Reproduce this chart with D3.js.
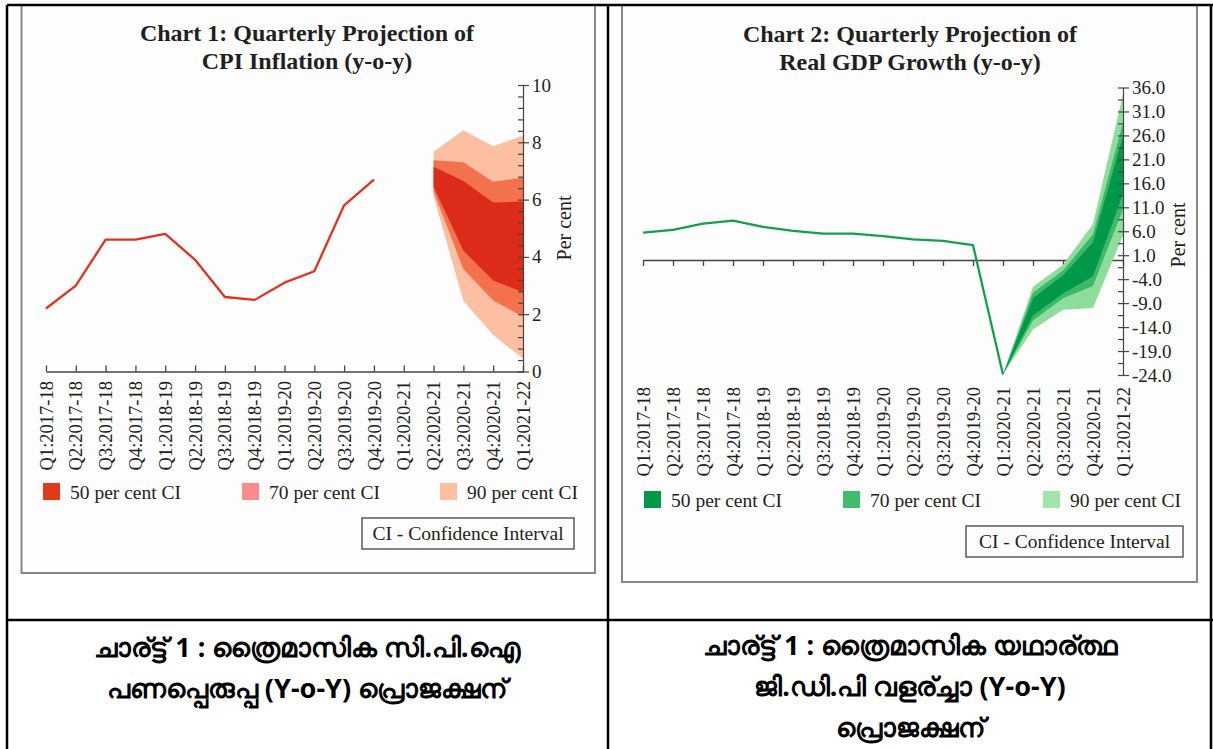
<!DOCTYPE html>
<html>
<head>
<meta charset="utf-8">
<script src="https://cdn.jsdelivr.net/npm/d3@7/dist/d3.min.js"></script>
<style>
    body { margin: 0; background: #fff; }
    svg text { fill: #231f20; }
</style>
</head>
<body>
<script>
// ==================== data ====================
const quarters = [
    "Q1:2017-18", "Q2:2017-18", "Q3:2017-18", "Q4:2017-18",
    "Q1:2018-19", "Q2:2018-19", "Q3:2018-19", "Q4:2018-19",
    "Q1:2019-20", "Q2:2019-20", "Q3:2019-20", "Q4:2019-20",
    "Q1:2020-21", "Q2:2020-21", "Q3:2020-21", "Q4:2020-21", "Q1:2021-22"
];

// CPI inflation, actual (Q1:2017-18 .. Q4:2019-20)
const cpiActual = [2.2, 3.0, 4.6, 4.6, 4.8, 3.9, 2.6, 2.5, 3.1, 3.5, 5.8, 6.7];
// CPI projection fan (Q2:2020-21 .. Q1:2021-22)
const cpiFanQuarters = ["Q2:2020-21", "Q3:2020-21", "Q4:2020-21", "Q1:2021-22"];
const cpi50Hi = [7.15, 6.65, 5.9, 5.93];
const cpi50Lo = [6.45, 4.22, 3.18, 2.77];
const cpi70Hi = [7.37, 7.3, 6.62, 6.77];
const cpi70Lo = [6.28, 3.58, 2.48, 1.92];
const cpi90Hi = [7.67, 8.42, 7.86, 8.23];
const cpi90Lo = [6.12, 2.47, 1.27, 0.45];

// Real GDP growth, actual (Q1:2017-18 .. Q1:2020-21)
const gdpActual = [5.7, 6.3, 7.6, 8.2, 6.9, 6.1, 5.5, 5.5, 5.0, 4.3, 4.0, 3.1, -23.9];
// GDP projection fan (Q1:2020-21 .. Q1:2021-22)
const gdpFanQuarters = ["Q1:2020-21", "Q2:2020-21", "Q3:2020-21", "Q4:2020-21", "Q1:2021-22"];
const gdp50Hi = [-23.9, -8.0, -3.2, 3.7, 26.0];
const gdp50Lo = [-23.9, -11.6, -7.0, -3.4, 13.8];
const gdp70Hi = [-23.9, -6.8, -2.2, 5.4, 28.7];
const gdp70Lo = [-23.9, -12.6, -8.0, -5.4, 10.6];
const gdp90Hi = [-23.9, -5.6, -1.0, 7.5, 34.6];
const gdp90Lo = [-23.9, -14.5, -10.4, -10.0, 5.1];

const cpiTicks = [0, 2, 4, 6, 8, 10];
const gdpTicks = [36, 31, 26, 21, 16, 11, 6, 1, -4, -9, -14, -19, -24];
const legendLabels = ["50 per cent CI", "70 per cent CI", "90 per cent CI"];

const captionLeft = ["ചാര്ട്ട് 1 : ത്രൈമാസിക സി.പി.ഐ", "പണപ്പെരുപ്പ (Y-o-Y) പ്രൊജക്ഷന്"];
const captionRight = ["ചാര്ട്ട് 1 : ത്രൈമാസിക യഥാര്ത്ഥ", "ജി.ഡി.പി വളര്ച്ചാ (Y-o-Y)", "പ്രൊജക്ഷന്"];

// ==================== drawing ====================
const W = 1213, H = 749;
const serif = "'Liberation Serif', 'DejaVu Serif', serif";

const svg = d3.select("body").append("svg")
    .attr("width", W)
    .attr("height", H);

svg.append("rect").attr("width", W).attr("height", H).attr("fill", "#fff");

function drawPanel(c) {
    const g = svg.append("g");

    // panel frame (picture border)
    g.append("rect")
        .attr("x", c.box[0]).attr("y", c.box[1])
        .attr("width", c.box[2] - c.box[0]).attr("height", c.box[3] - c.box[1])
        .attr("fill", "#fdfdfd")
        .attr("stroke", "#888")
        .attr("stroke-width", 2);

    // title
    c.title.forEach((t, i) => {
        g.append("text")
            .attr("x", c.titleX)
            .attr("y", c.titleY + i * 28)
            .attr("text-anchor", "middle")
            .style("font-family", serif)
            .style("font-weight", "bold")
            .style("font-size", "24px")
            .text(t);
    });

    const x = d3.scalePoint().domain(quarters).range(c.xRange);
    const y = d3.scaleLinear().domain(c.yDomain).range(c.yRange);

    // x axis line + ticks
    g.append("g")
        .attr("transform", `translate(0,${y(0)})`)
        .call(d3.axisBottom(x).tickSizeInner(c.xTickDir * 6).tickSizeOuter(0).tickFormat(""))
        .call(a => a.selectAll("path, line").attr("stroke", "#444").attr("stroke-width", 1.3));

    // x labels (rotated)
    g.append("g")
        .attr("transform", `translate(0,${c.labelY})`)
        .call(d3.axisBottom(x).tickSize(0).tickPadding(0))
        .call(a => a.select(".domain").remove())
        .selectAll("text")
        .attr("transform", "rotate(-90)")
        .attr("text-anchor", "end")
        .attr("x", 0)
        .attr("y", 0)
        .attr("dy", "0.33em")
        .style("font-family", serif)
        .style("font-size", "18.5px")
        .style("fill", "#231f20");

    // fan bands
    const area = d3.area()
        .x(d => x(d.q))
        .y0(d => y(d.lo))
        .y1(d => y(d.hi));
    c.bands.forEach(b => {
        g.append("path")
            .datum(c.fanQuarters.map((q, i) => ({q: q, lo: b.lo[i], hi: b.hi[i]})))
            .attr("d", area)
            .attr("fill", b.color);
    });

    // actual line
    const line = d3.line().x(d => x(d.q)).y(d => y(d.v));
    g.append("path")
        .datum(c.actual.map((v, i) => ({q: quarters[i], v: v})))
        .attr("d", line)
        .attr("fill", "none")
        .attr("stroke", c.lineColor)
        .attr("stroke-width", 2.3)
        .attr("stroke-linejoin", "round");

    // y axis: minor ticks (left) + major ticks (right) with labels
    const axX = c.xRange[1];
    g.append("g")
        .attr("transform", `translate(${axX},0)`)
        .call(d3.axisRight(y).tickValues(c.minorTicks).tickSizeInner(-5).tickSizeOuter(0).tickFormat(""))
        .call(a => a.selectAll("path, line").attr("stroke", "#444").attr("stroke-width", 1.2));
    g.append("g")
        .attr("transform", `translate(${axX},0)`)
        .call(d3.axisRight(y).tickValues(c.majorTicks).tickSizeInner(6).tickSizeOuter(0)
            .tickPadding(3).tickFormat(c.tickFormat))
        .call(a => a.select(".domain").remove())
        .call(a => a.selectAll("line").attr("stroke", "#444").attr("stroke-width", 1.2))
        .selectAll("text")
        .style("font-family", serif)
        .style("font-size", "19px")
        .style("fill", "#231f20");

    g.append("text")
        .attr("transform", `translate(${c.perCent[0]},${c.perCent[1]}) rotate(-90)`)
        .attr("text-anchor", "middle")
        .style("font-family", serif)
        .style("font-size", "20px")
        .text("Per cent");

    // legend
    legendLabels.forEach((t, i) => {
        g.append("rect")
            .attr("x", c.legendX[i]).attr("y", c.legendY - 16)
            .attr("width", 17).attr("height", 17)
            .attr("fill", c.legendColors[i]);
        g.append("text")
            .attr("x", c.legendX[i] + 27).attr("y", c.legendY)
            .style("font-family", serif)
            .style("font-size", "19.5px")
            .text(t);
    });

    // CI note box
    g.append("rect")
        .attr("x", c.ciBox[0]).attr("y", c.ciBox[1])
        .attr("width", c.ciBox[2] - c.ciBox[0]).attr("height", c.ciBox[3] - c.ciBox[1])
        .attr("fill", "none")
        .attr("stroke", "#444")
        .attr("stroke-width", 1.3);
    g.append("text")
        .attr("x", (c.ciBox[0] + c.ciBox[2]) / 2)
        .attr("y", (c.ciBox[1] + c.ciBox[3]) / 2 + 6)
        .attr("text-anchor", "middle")
        .style("font-family", serif)
        .style("font-size", "19.5px")
        .text("CI - Confidence Interval");
}

const cpiMinor = d3.range(0, 10.01, 0.4).map(v => +v.toFixed(1));
const gdpMinor = d3.range(-24, 36.01, 2.5);

// Chart 1: CPI inflation
drawPanel({
    box: [21.5, 5, 595, 573],
    title: ["Chart 1: Quarterly Projection of", "CPI Inflation (y-o-y)"],
    titleX: 307, titleY: 41,
    xRange: [46, 523], yDomain: [0, 10], yRange: [371.5, 85],
    xTickDir: -1, labelY: 381,
    actual: cpiActual, lineColor: "#e2311d",
    fanQuarters: cpiFanQuarters,
    bands: [
        {lo: cpi90Lo, hi: cpi90Hi, color: "#fcbfa2"},
        {lo: cpi70Lo, hi: cpi70Hi, color: "#f3714d"},
        {lo: cpi50Lo, hi: cpi50Hi, color: "#dc2b19"}
    ],
    majorTicks: cpiTicks, minorTicks: cpiMinor, tickFormat: d3.format("d"),
    perCent: [571, 228],
    legendX: [43, 242, 440], legendY: 499,
    legendColors: ["#e03a17", "#fc8a88", "#fec0a1"],
    ciBox: [362, 518, 574, 549]
});

// Chart 2: Real GDP growth
drawPanel({
    box: [622, 5, 1197, 582],
    title: ["Chart 2: Quarterly Projection of", "Real GDP Growth (y-o-y)"],
    titleX: 910, titleY: 42,
    xRange: [643, 1123], yDomain: [-24, 36], yRange: [375, 87.5],
    xTickDir: 1, labelY: 387,
    actual: gdpActual, lineColor: "#12a04c",
    fanQuarters: gdpFanQuarters,
    bands: [
        {lo: gdp90Lo, hi: gdp90Hi, color: "#8fdd9c"},
        {lo: gdp70Lo, hi: gdp70Hi, color: "#3eb96a"},
        {lo: gdp50Lo, hi: gdp50Hi, color: "#01984a"}
    ],
    majorTicks: gdpTicks, minorTicks: gdpMinor, tickFormat: d => d.toFixed(1),
    perCent: [1185, 235],
    legendX: [644, 843, 1043], legendY: 507,
    legendColors: ["#00994a", "#40bd6c", "#a0e6aa"],
    ciBox: [966, 526, 1183, 557]
});

// ==================== table grid ====================
const grid = [
    [7, 5, 1213, 5],
    [7, 5, 7, H],
    [608, 5, 608, H],
    [1211, 5, 1211, H],
    [7, 620, 1213, 620]
];
svg.selectAll(".grid")
    .data(grid)
    .join("line")
    .attr("class", "grid")
    .attr("x1", d => d[0]).attr("y1", d => d[1])
    .attr("x2", d => d[2]).attr("y2", d => d[3])
    .attr("stroke", "#000")
    .attr("stroke-width", 2.5);

// captions (Malayalam)
const capFont = "'Noto Sans', 'DejaVu Sans', sans-serif";
captionLeft.forEach((t, i) => {
    svg.append("text")
        .attr("x", 307).attr("y", 657 + i * 41)
        .attr("text-anchor", "middle")
        .style("font-family", capFont)
        .style("font-weight", "bold")
        .style("font-size", "27px")
        .style("fill", "#000")
        .text(t);
});
captionRight.forEach((t, i) => {
    svg.append("text")
        .attr("x", 910).attr("y", 655 + i * 41)
        .attr("text-anchor", "middle")
        .style("font-family", capFont)
        .style("font-weight", "bold")
        .style("font-size", "27px")
        .style("fill", "#000")
        .text(t);
});
</script>
</body>
</html>
